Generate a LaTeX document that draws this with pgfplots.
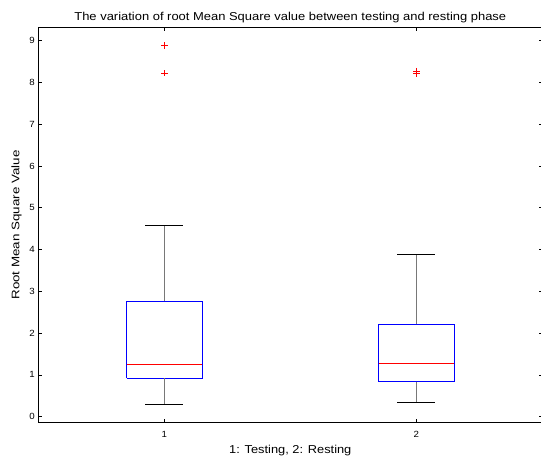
\documentclass[border=0pt]{standalone}
\usepackage{fontspec}
\setmainfont{Liberation Sans}
\newfontfamily\wideA[FakeStretch=1.13]{Liberation Sans}
\newfontfamily\wideB[FakeStretch=1.12]{Liberation Sans}
\newfontfamily\wideC[FakeStretch=1.22]{Liberation Sans}
\newfontfamily\wideD[FakeStretch=1.08]{Liberation Sans}
\usepackage{pgfplots}
\pgfplotsset{compat=1.18}
\definecolor{mblue}{RGB}{0,0,255}
\definecolor{mred}{RGB}{255,0,0}
\definecolor{wgray}{RGB}{120,120,120}
\begin{document}
\begin{tikzpicture}
\begin{axis}[
  name=ax,
  scale only axis,
  width=504bp, height=395.4bp,
  xmin=0.5, xmax=2.5, ymin=-0.145, ymax=9.32,
  xtick={1,2}, ytick={0,1,...,9},
  /pgf/number format/assume math mode=true,
  tick align=inside,
  major tick length=3.5bp,
  tick style={black, line width=0.6bp},
  axis line style={black, line width=1.4bp},
  ticklabel style={font=\wideD\fontsize{9}{10}\selectfont},
  xticklabel style={yshift=-5bp},
  title={The variation of root Mean Square value between testing and resting phase},
  title style={font=\wideA\fontsize{11.5}{13}\selectfont, yshift=-5bp},
  xlabel={1: Testing, 2: Resting},
  ylabel={Root Mean Square Value},
  xlabel style={font=\wideB\fontsize{11.5}{13}\selectfont, yshift=-1bp},
  ylabel style={font=\wideC\fontsize{11}{13}\selectfont, yshift=1bp},
  clip=false,
]
% box 1
\addplot[mblue, line width=0.9bp] coordinates {(0.85,0.92) (1.15,0.92) (1.15,2.76) (0.85,2.76) (0.85,0.92)};
\addplot[mred, line width=0.8bp] coordinates {(0.85,1.24) (1.15,1.24)};
\addplot[wgray, line width=1bp] coordinates {(1,2.76) (1,4.58)};
\addplot[wgray, line width=1bp] coordinates {(1,0.92) (1,0.30)};
\addplot[black, line width=0.9bp] coordinates {(0.925,4.58) (1.075,4.58)};
\addplot[black, line width=0.9bp] coordinates {(0.925,0.30) (1.075,0.30)};
% box 2
\addplot[mblue, line width=0.9bp] coordinates {(1.85,0.84) (2.15,0.84) (2.15,2.21) (1.85,2.21) (1.85,0.84)};
\addplot[mred, line width=0.8bp] coordinates {(1.85,1.28) (2.15,1.28)};
\addplot[wgray, line width=1bp] coordinates {(2,2.21) (2,3.89)};
\addplot[wgray, line width=1bp] coordinates {(2,0.84) (2,0.35)};
\addplot[black, line width=0.9bp] coordinates {(1.925,3.89) (2.075,3.89)};
\addplot[black, line width=0.9bp] coordinates {(1.925,0.35) (2.075,0.35)};
% outliers
\addplot[only marks, mark=+, mred, mark size=3.2bp, line width=0.6bp] coordinates {(1,8.88) (1,8.22) (2,8.21) (2,8.27)};
\coordinate (bl) at (rel axis cs:0,0);
\coordinate (tr) at (rel axis cs:1,1);
\end{axis}
\pgfresetboundingbox
\path[use as bounding box] ([shift={(-38.3bp,-36.3bp)}]bl) rectangle ([shift={(-1.3bp,27.3bp)}]tr);
\end{tikzpicture}
\end{document}
